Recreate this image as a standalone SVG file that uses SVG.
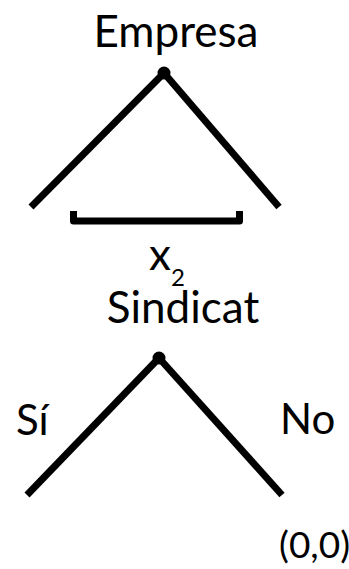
<svg xmlns="http://www.w3.org/2000/svg" width="349" height="569" viewBox="0 0 349 569">
<style>
  text { font-family: Lato, "Open Sans", sans-serif; fill: #000; }
  .big { font-size: 44px; }
  .lbl { font-size: 42px; }
  .pay { font-size: 37px; }
  .sub { font-size: 24px; }
  .edge { stroke: #000; stroke-width: 7; fill: none; }
  .dot { fill: #000; }
</style>
<rect width="349" height="569" fill="#fff"/>
<g id="connectors">
  <line class="edge" x1="164" y1="73" x2="31" y2="207"/>
  <line class="edge" x1="164" y1="73" x2="279" y2="207"/>
  <line class="edge" x1="159" y1="358" x2="27" y2="495"/>
  <line class="edge" x1="159" y1="358" x2="282" y2="495"/>
  <path id="bracket" d="M73.5 211 V221 H239.5 V211" stroke="#000" stroke-width="7" fill="none" stroke-linejoin="round"/>
</g>
<g id="node-empresa">
  <circle class="dot" cx="164" cy="73" r="6.5"/>
  <text class="big" x="176" y="47" text-anchor="middle">Empresa</text>
</g>
<g id="label-x2">
  <text class="big" x="149" y="270">x</text>
  <text class="sub" x="171" y="286">2</text>
</g>
<g id="node-sindicat">
  <circle class="dot" cx="159" cy="358" r="6.5"/>
  <text class="big" x="183" y="323" text-anchor="middle">Sindicat</text>
</g>
<g id="labels">
  <text class="lbl" x="16" y="435">Sí</text>
  <text class="lbl" x="280" y="434">No</text>
  <text class="pay" x="279" y="558">(0,0)</text>
</g>
</svg>
